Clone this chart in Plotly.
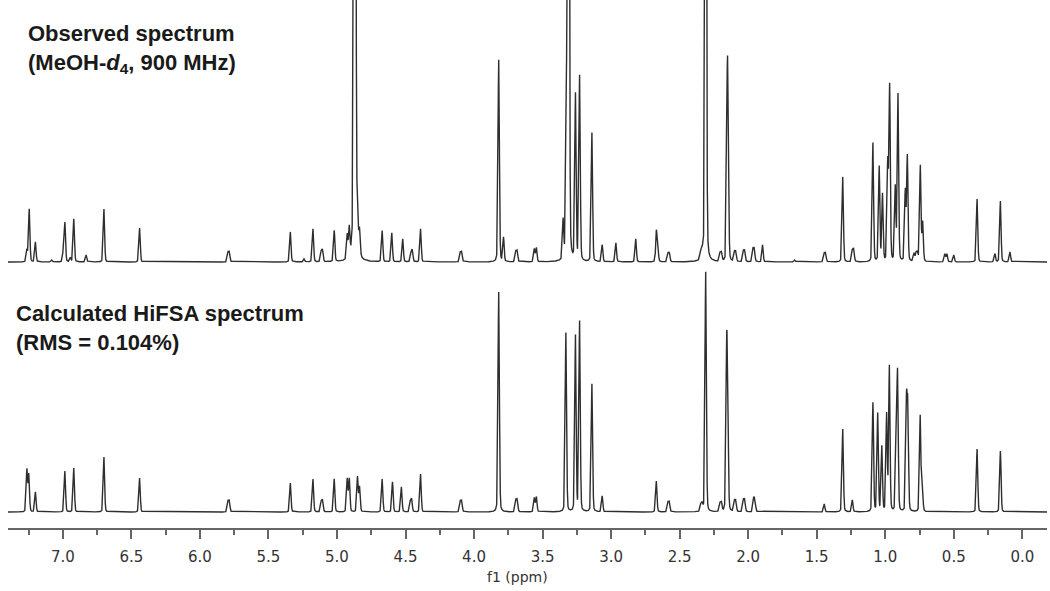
import numpy as np
import plotly.graph_objects as go

# peak lists: shift (ppm) and height (relative intensity)
obs_ppm = [7.262, 7.245, 7.20, 7.08, 6.997, 6.985, 6.945, 6.92, 6.83, 6.70, 6.44,
           5.795, 5.785, 5.34, 5.24, 5.175, 5.115, 5.105, 5.02, 4.925, 4.91,
           4.873, 4.868, 4.85, 4.835, 4.67, 4.60, 4.52, 4.46, 4.45, 4.39,
           4.10, 4.09, 3.82, 3.785, 3.695, 3.685, 3.56, 3.545,
           3.35, 3.325, 3.31, 3.26, 3.23, 3.14, 3.065, 2.965, 2.82, 2.67, 2.66,
           2.585, 2.575, 2.345, 2.335, 2.31, 2.205, 2.195, 2.153, 2.147,
           2.10, 2.09, 2.035, 2.025, 1.965, 1.955, 1.895, 1.66, 1.445, 1.435,
           1.31, 1.24, 1.23, 1.09, 1.044, 1.02, 0.982, 0.968, 0.927, 0.907,
           0.854, 0.839, 0.79, 0.775, 0.765, 0.744, 0.727, 0.565, 0.55, 0.50,
           0.33, 0.20, 0.16, 0.09]
obs_int = [12, 53, 20, 2, 10, 39, 4, 43, 7, 53, 34,
           9, 9, 30, 3, 33, 10, 11, 31, 24, 29,
           900, 900, 36, 25, 31, 29, 23, 9, 11, 33,
           9, 9, 202, 24, 10, 10, 13, 14,
           39, 171, 900, 166, 185, 129, 17, 19, 23, 29, 18,
           8, 8, 7, 7, 900, 8, 8, 134, 120,
           9, 9, 10, 10, 12, 12, 17, 2, 8, 8,
           85, 11, 12, 119, 95, 67, 97, 174, 74, 167,
           70, 105, 8, 8, 8, 96, 39, 8, 8, 7,
           63, 8, 61, 10]

calc_ppm = [7.262, 7.248, 7.20, 6.985, 6.92, 6.70, 6.44, 5.795, 5.785, 5.34,
            5.175, 5.115, 5.105, 5.02, 4.925, 4.91, 4.85, 4.835, 4.67, 4.595,
            4.53, 4.465, 4.455, 4.39, 4.10, 4.09, 3.82, 3.695, 3.685, 3.56, 3.545,
            3.33, 3.26, 3.23, 3.14, 3.065, 2.67, 2.585, 2.575, 2.345, 2.335,
            2.31, 2.205, 2.195, 2.158, 2.15, 2.10, 2.09, 2.035, 2.025, 1.96, 1.95,
            1.445, 1.31, 1.24, 1.09, 1.055, 1.025, 0.99, 0.97, 0.92, 0.91,
            0.845, 0.835, 0.745, 0.73, 0.33, 0.16]
calc_int = [42, 37, 20, 41, 44, 55, 34, 10, 10, 29,
            33, 10, 11, 33, 33, 33, 35, 25, 33, 30,
            25, 10, 12, 38, 10, 10, 220, 11, 11, 14, 15,
            179, 176, 190, 128, 16, 31, 9, 9, 7, 7,
            240, 8, 8, 135, 125, 10, 10, 11, 11, 13, 12,
            8, 83, 12, 109, 98, 65, 97, 145, 70, 132,
            105, 98, 96, 27, 63, 61]

ppm = np.arange(-0.2, 7.42, 0.0005)


def spectrum(centres, heights, sigma=0.005, lfrac=0.25):
    y = np.zeros_like(ppm)
    for c, h in zip(centres, heights):
        d = ppm - c
        g = np.exp(-d**2 / (2 * sigma**2))
        l = sigma**2 / (d**2 + sigma**2)
        y += h * ((1 - lfrac) * g + lfrac * l)
    return y


upper_base = 266
lower_base = 16

fig = go.Figure()
fig.add_trace(go.Scatter(x=ppm, y=spectrum(obs_ppm, obs_int) + upper_base, mode="lines",
                         line=dict(color="#2e2e2e", width=1.4), hoverinfo="skip"))
fig.add_trace(go.Scatter(x=ppm, y=spectrum(calc_ppm, calc_int) + lower_base, mode="lines",
                         line=dict(color="#2e2e2e", width=1.4), hoverinfo="skip"))

fig.update_layout(
    width=1050, height=591,
    margin=dict(l=8, r=3, t=0, b=63),
    paper_bgcolor="white", plot_bgcolor="white",
    showlegend=False,
    font=dict(family="DejaVu Sans", color="#333333"),
)
fig.update_xaxes(range=[7.40, -0.18], tick0=0, dtick=0.5, tickformat=".1f",
                 showgrid=False, zeroline=False,
                 showline=True, linecolor="#666666", linewidth=2,
                 ticks="outside", ticklen=9, tickwidth=1.5, tickcolor="#666666",
                 ticklabelstandoff=5,
                 tickfont=dict(size=15, family="DejaVu Sans", color="#333333"),
                 minor=dict(dtick=0.25, ticks="outside", ticklen=5, tickwidth=1.5,
                            tickcolor="#666666", showgrid=False))
fig.update_yaxes(range=[0, 528], visible=False, fixedrange=True)

bold = dict(family="Liberation Sans, Arial", size=22, color="#1a1a1a")
fig.add_annotation(text="<b>Observed spectrum</b><br><b>(MeOH-<i>d</i><sub>4</sub>, 900 MHz)</b>",
                   xref="paper", yref="y", x=0.017, y=509, xanchor="left", yanchor="top",
                   align="left", showarrow=False, font=bold)
fig.add_annotation(text="<b>Calculated HiFSA spectrum</b><br><b>(RMS = 0.104%)</b>",
                   xref="paper", yref="y", x=0.006, y=229, xanchor="left", yanchor="top",
                   align="left", showarrow=False, font=bold)
fig.add_annotation(text="f1 (ppm)", xref="x", yref="paper", x=3.68, y=-0.093,
                   xanchor="center", yanchor="middle", showarrow=False,
                   font=dict(size=14, family="DejaVu Sans", color="#333333"))

# page body has a default 8px margin; drop it so the figure sits at the window corner
fig.write_html("out.html", config={"displayModeBar": False},
               post_script="document.body.style.margin='0px';")
